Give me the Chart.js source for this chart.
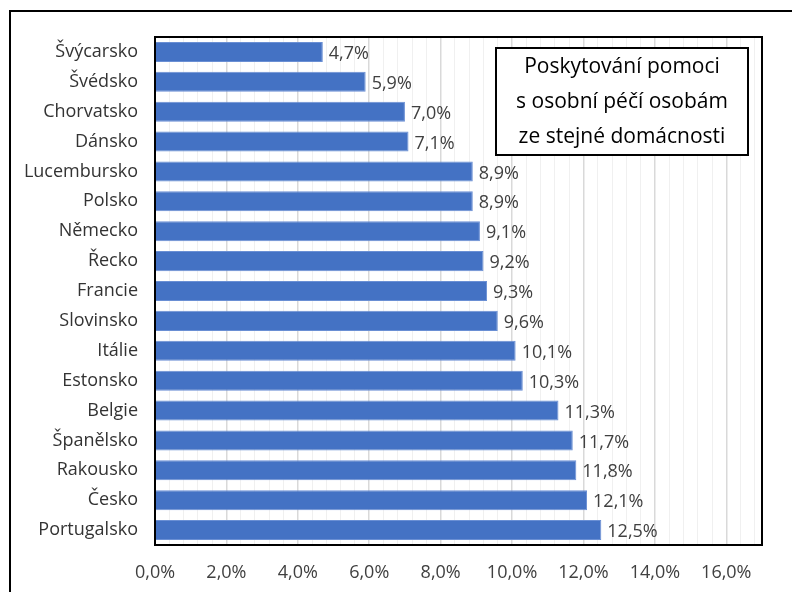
<!DOCTYPE html>
<html>
<head>
<meta charset="utf-8">
<script src="https://cdn.jsdelivr.net/npm/chart.js@4"></script>
<style>
  html, body { margin: 0; padding: 0; background: #fff; }
  #wrap { position: relative; width: 792px; height: 592px; overflow: hidden; }
  #frame { position: absolute; left: 9px; top: 10px; width: 900px; height: 700px;
           border-left: 2px solid #000; border-top: 2px solid #000; pointer-events: none; }
</style>
</head>
<body>
<div id="wrap">
  <canvas id="chart" width="792" height="592"></canvas>
  <div id="frame"></div>
</div>
<script>
const countries = ["Švýcarsko", "Švédsko", "Chorvatsko", "Dánsko", "Lucembursko", "Polsko", "Německo",
  "Řecko", "Francie", "Slovinsko", "Itálie", "Estonsko", "Belgie", "Španělsko", "Rakousko", "Česko", "Portugalsko"];
const shares = [4.7, 5.9, 7.0, 7.1, 8.9, 8.9, 9.1, 9.2, 9.3, 9.6, 10.1, 10.3, 11.3, 11.7, 11.8, 12.1, 12.5];
const majorTicks = [0, 2, 4, 6, 8, 10, 12, 14, 16];
const minorStep = 0.4;
const titleLines = ["Poskytování pomoci", "s osobní péčí osobám", "ze stejné domácnosti"];

const FONT = "'Open Sans', sans-serif";
const fmt = v => v.toFixed(1).replace(".", ",") + "%";
const isMajor = v => majorTicks.some(m => Math.abs(m - v) < 1e-6);

// value labels right of each bar
const barLabels = {
  id: "barLabels",
  afterDatasetsDraw(chart) {
    const ctx = chart.ctx;
    const meta = chart.getDatasetMeta(0);
    ctx.save();
    ctx.font = "18px " + FONT;
    ctx.fillStyle = "#404040";
    ctx.textAlign = "left";
    ctx.textBaseline = "middle";
    meta.data.forEach((bar, i) => {
      ctx.fillText(fmt(shares[i]), bar.x + 6, bar.y + 2);
    });
    ctx.restore();
  }
};

// plot border + title box
const frameAndTitle = {
  id: "frameAndTitle",
  afterDraw(chart) {
    const { ctx, chartArea: a } = chart;
    ctx.save();
    ctx.strokeStyle = "#000";
    ctx.lineWidth = 2;
    ctx.strokeRect(a.left, a.top, a.right - a.left, a.bottom - a.top);

    const bw = 252, bh = 107;
    const bx = a.right - 14 - bw, by = a.top + 11;
    ctx.fillStyle = "#fff";
    ctx.fillRect(bx, by, bw, bh);
    ctx.strokeRect(bx, by, bw, bh);
    ctx.fillStyle = "#000";
    ctx.font = "21px " + FONT;
    ctx.textAlign = "center";
    ctx.textBaseline = "middle";
    titleLines.forEach((t, i) => ctx.fillText(t, bx + bw / 2, by + 19 + i * 35));
    ctx.restore();
  }
};

new Chart(document.getElementById("chart"), {
  type: "bar",
  data: {
    labels: countries,
    datasets: [{
      data: shares,
      backgroundColor: "#4472C4",
      borderColor: "#6a8fd4",
      borderWidth: 1,
      barPercentage: 0.67,
      categoryPercentage: 1.0
    }]
  },
  options: {
    indexAxis: "y",
    responsive: false,
    animation: false,
    layout: { padding: { top: 37, right: 30, left: 0, bottom: 0 } },
    plugins: { legend: { display: false }, tooltip: { enabled: false } },
    scales: {
      x: {
        min: 0,
        max: 17,
        afterBuildTicks(axis) {
          const t = [];
          for (let i = 0; i * minorStep <= 16.8 + 1e-6; i++) t.push({ value: +(i * minorStep).toFixed(1) });
          axis.ticks = t;
        },
        afterFit(axis) { axis.height = 47; },
        grid: {
          color: c => isMajor(c.tick.value) ? "#d9d9d9" : "#f0f0f0",
          lineWidth: c => isMajor(c.tick.value) ? 1.5 : 1,
          drawTicks: false
        },
        border: { display: false },
        ticks: {
          autoSkip: false,
          maxRotation: 0,
          padding: 17,
          color: "#404040",
          font: { family: FONT, size: 18 },
          callback: v => isMajor(v) ? fmt(v) : ""
        }
      },
      y: {
        afterFit(axis) { axis.width = 155; },
        grid: { display: false, drawTicks: false },
        border: { display: false },
        ticks: {
          padding: 17,
          color: "#333333",
          font: { family: FONT, size: 18 }
        }
      }
    }
  },
  plugins: [barLabels, frameAndTitle]
});
</script>
</body>
</html>
